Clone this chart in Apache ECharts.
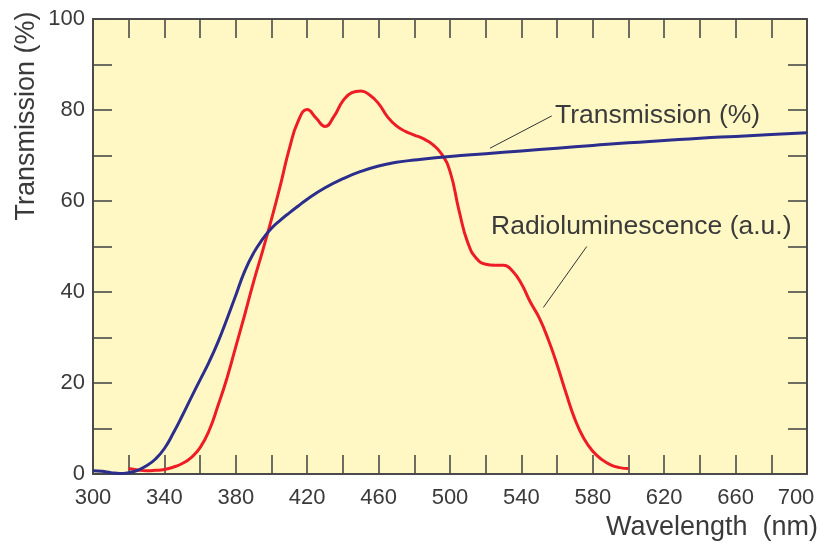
<!DOCTYPE html>
<html>
<head>
<meta charset="utf-8">
<script src="https://cdn.jsdelivr.net/npm/echarts@6/dist/echarts.min.js"></script>
<style>
  html, body { margin: 0; padding: 0; background: #ffffff; }
  #chart { width: 821px; height: 542px; }
</style>
</head>
<body>
<div id="chart"></div>
<script>
// Transmission spectrum (%)
const transWavelengths = [300, 305, 310, 315, 320, 325, 330, 335, 340, 345, 350, 355, 360, 365, 370, 375, 380, 385, 390, 395, 400, 405, 410, 415, 420, 430, 440, 450, 460, 470, 480, 500, 520, 540, 560, 580, 600, 620, 640, 660, 680, 700];
const transValues      = [0.7, 0.6, 0.3, 0.1, 0.3, 0.8, 1.8, 3.3, 5.6, 9.0, 12.8, 16.8, 20.7, 24.6, 29.0, 34.0, 39.3, 44.6, 48.6, 51.6, 54.0, 55.8, 57.4, 58.9, 60.4, 62.9, 64.9, 66.5, 67.7, 68.5, 69.0, 69.8, 70.4, 71, 71.6, 72.2, 72.8, 73.3, 73.8, 74.2, 74.6, 75.0];

// Radioluminescence spectrum (a.u.)
const rlWavelengths = [320, 325, 330, 335, 340, 345, 350, 355, 360, 365, 370, 375, 380, 385, 390, 395, 400, 405, 410, 415, 420, 425, 430, 435, 440, 445, 450, 455, 460, 465, 470, 475, 480, 485, 490, 495, 500, 505, 510, 515, 520, 525, 530, 535, 540, 545, 550, 555, 560, 565, 570, 575, 580, 585, 590, 595, 600];
const rlValues      = [1.2, 0.9, 0.7, 0.8, 1.0, 1.5, 2.3, 3.6, 5.8, 9.5, 15, 21, 28, 35, 42.3, 49.0, 56.0, 63.5, 71.5, 77.6, 80.1, 78.2, 76.4, 78.6, 82, 83.8, 84.2, 83.3, 81.4, 78.5, 76.5, 75.3, 74.5, 73.7, 72.5, 70.5, 66.5, 58.0, 50.8, 47.3, 46.1, 45.9, 45.9, 44.6, 41.8, 37.8, 34.3, 29.6, 24.0, 17.8, 12.0, 7.8, 5.0, 3.2, 2.0, 1.4, 1.2];

// Axis ranges and labelled ticks
const xMin = 300, xMax = 700, xStep = 20, xLabelStep = 40;
const yMin = 0, yMax = 100, yStep = 10, yLabelStep = 20;

// Leader lines from the curve labels to their curves (data coordinates)
const transLeader = [[522.4, 71.6], [557.0, 78.7]];
const rlLeader = [[576.6, 50.0], [552.3, 36.6]];

const textColor = '#3a3a3a';
const axisColor = '#4a4a4a';
const fontFamily = '"Liberation Sans", Arial, Helvetica, sans-serif';
const tickFont = { color: textColor, fontSize: 22, fontFamily: fontFamily };

const zip = (xs, ys) => xs.map((x, i) => [x, ys[i]]);

const chart = echarts.init(document.getElementById('chart'), null, { renderer: 'canvas' });

const tickStyle = { show: true, inside: true, length: 19, lineStyle: { color: axisColor, width: 1.6 } };
const lineStyleAxis = { show: true, onZero: false, lineStyle: { color: axisColor, width: 2 } };

// x labels every 40 nm; the last one is nudged left so it stays on the page
function xLabel(v) {
  if ((v - xMin) % xLabelStep !== 0) return '';
  return v === xMax ? '{edge|' + v + '}' : String(v);
}

chart.setOption({
  animation: false,
  backgroundColor: '#ffffff',
  grid: {
    left: 93, right: 14, top: 19, bottom: 68,
    outerBoundsMode: 'none', containLabel: false,
    show: true, backgroundColor: '#fff8c4', borderWidth: 0
  },
  xAxis: [
    {
      type: 'value', min: xMin, max: xMax, interval: xStep, position: 'bottom',
      axisLine: lineStyleAxis, axisTick: tickStyle, splitLine: { show: false },
      axisLabel: Object.assign({}, tickFont, {
        margin: 13, hideOverlap: false, formatter: xLabel,
        rich: { edge: Object.assign({}, tickFont, { padding: [0, 22, 0, 0] }) }
      })
    },
    {
      type: 'value', min: xMin, max: xMax, interval: xStep, position: 'top',
      axisLine: lineStyleAxis, axisTick: tickStyle, splitLine: { show: false },
      axisLabel: { show: false }
    }
  ],
  yAxis: [
    {
      type: 'value', min: yMin, max: yMax, interval: yStep, position: 'left',
      axisLine: lineStyleAxis, axisTick: tickStyle, splitLine: { show: false },
      axisLabel: Object.assign({}, tickFont, {
        margin: 8,
        formatter: v => (v % yLabelStep === 0 ? String(v) : '')
      })
    },
    {
      type: 'value', min: yMin, max: yMax, interval: yStep, position: 'right',
      axisLine: lineStyleAxis, axisTick: tickStyle, splitLine: { show: false },
      axisLabel: { show: false }
    }
  ],
  series: [
    {
      name: 'Transmission (%)', type: 'line', xAxisIndex: 0, yAxisIndex: 0,
      data: zip(transWavelengths, transValues),
      smooth: 0.5, showSymbol: false, symbol: 'none',
      lineStyle: { color: '#2b2e8c', width: 3 },
      z: 3,
      markLine: {
        silent: true, symbol: ['none', 'none'], label: { show: false },
        lineStyle: { color: '#333333', width: 1, type: 'solid' },
        data: [[{ coord: transLeader[0] }, { coord: transLeader[1] }]]
      }
    },
    {
      name: 'Radioluminescence (a.u.)', type: 'line', xAxisIndex: 0, yAxisIndex: 0,
      data: zip(rlWavelengths, rlValues),
      smooth: 0.5, showSymbol: false, symbol: 'none',
      lineStyle: { color: '#ee1c25', width: 3 },
      z: 2,
      markLine: {
        silent: true, symbol: ['none', 'none'], label: { show: false },
        lineStyle: { color: '#333333', width: 1, type: 'solid' },
        data: [[{ coord: rlLeader[0] }, { coord: rlLeader[1] }]]
      }
    }
  ],
  graphic: [
    {
      type: 'text', x: 27, y: 116, rotation: Math.PI / 2,
      style: {
        text: 'Transmission (%)', fill: textColor,
        font: '27px ' + fontFamily, textAlign: 'center', textVerticalAlign: 'middle'
      }
    },
    {
      type: 'text', x: 818, y: 528,
      style: {
        text: 'Wavelength  (nm)', fill: textColor,
        font: '27px ' + fontFamily, textAlign: 'right', textVerticalAlign: 'middle'
      }
    },
    {
      type: 'text', x: 555, y: 116,
      style: {
        text: 'Transmission (%)', fill: textColor,
        font: '26.5px ' + fontFamily, textAlign: 'left', textVerticalAlign: 'middle'
      }
    },
    {
      type: 'text', x: 491, y: 227,
      style: {
        text: 'Radioluminescence (a.u.)', fill: textColor,
        font: '26.5px ' + fontFamily, textAlign: 'left', textVerticalAlign: 'middle'
      }
    }
  ]
});
</script>
</body>
</html>
